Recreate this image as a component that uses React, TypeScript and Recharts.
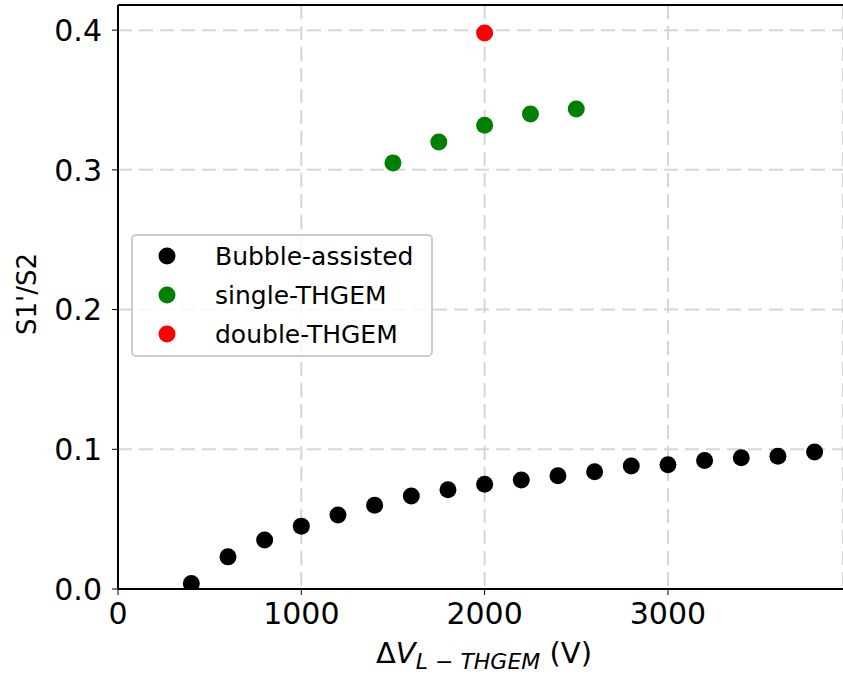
import React from "react";
import {
  ScatterChart,
  Scatter,
  XAxis,
  YAxis,
  CartesianGrid,
  Legend,
  ReferenceLine,
} from "recharts";

// Bubble-assisted points
const bubbleX = [400, 600, 800, 1000, 1200, 1400, 1600, 1800, 2000, 2200, 2400, 2600, 2800, 3000, 3200, 3400, 3600, 3800];
const bubbleY = [0.004, 0.023, 0.035, 0.045, 0.053, 0.06, 0.0665, 0.071, 0.075, 0.078, 0.081, 0.084, 0.088, 0.089, 0.092, 0.094, 0.095, 0.098];

// single-THGEM points
const singleX = [1500, 1750, 2000, 2250, 2500];
const singleY = [0.305, 0.32, 0.332, 0.34, 0.3435];

// double-THGEM point
const doubleX = [2000];
const doubleY = [0.398];

const seriesNames = ["Bubble-assisted", "single-THGEM", "double-THGEM"];

const xTicks = [0, 1000, 2000, 3000];
const yTicks = [0, 0.1, 0.2, 0.3, 0.4];

const X_MAX = 3955;
const Y_MAX = 0.418;

const toPoints = (xs: number[], ys: number[]) => xs.map((x, i) => ({ x, y: ys[i] }));

const bubbleData = toPoints(bubbleX, bubbleY);
const singleData = toPoints(singleX, singleY);
const doubleData = toPoints(doubleX, doubleY);

const Dot = (props: any) => {
  const { cx, cy, fill } = props;
  return <circle cx={cx} cy={cy} r={8.5} fill={fill} />;
};

const renderLegend = (props: any) => {
  // keep the plotting order, not alphabetical
  const payload = [...props.payload].sort(
    (a: any, b: any) => seriesNames.indexOf(a.value) - seriesNames.indexOf(b.value)
  );
  return (
    <div
      style={{
        width: 302,
        height: 123,
        border: "2px solid #cccccc",
        borderRadius: 5,
        background: "rgba(255,255,255,0.8)",
        boxSizing: "border-box",
        position: "relative",
      }}
    >
      {payload.map((entry: any, i: number) => (
        <div
          key={entry.value}
          style={{
            position: "absolute",
            left: 0,
            top: 2 + i * 39,
            height: 36,
            display: "flex",
            alignItems: "center",
          }}
        >
          <svg width={70} height={36}>
            <circle cx={34} cy={18} r={8.5} fill={entry.color} />
          </svg>
          <span style={{ fontSize: 25, color: "#000", marginLeft: 12, whiteSpace: "nowrap" }}>
            {entry.value}
          </span>
        </div>
      ))}
    </div>
  );
};

const XLabel = () => (
  <text x={484} y={663} textAnchor="middle" fontSize={29} fill="#000">
    <tspan>Δ</tspan>
    <tspan fontStyle="italic">V</tspan>
    <tspan fontSize={22} fontStyle="italic" dy={6}>L − THGEM</tspan>
    <tspan dy={-6}> (V)</tspan>
  </text>
);

const YLabel = () => (
  <text
    x={27}
    y={294}
    textAnchor="middle"
    dominantBaseline="central"
    fontSize={26}
    fill="#000"
    transform="rotate(-90 27 294)"
  >
    S1'/S2
  </text>
);

export default function App() {
  return (
    <div
      style={{
        position: "fixed",
        left: 0,
        top: 0,
        width: 843,
        height: 677,
        background: "#fff",
        fontFamily: "'DejaVu Sans', sans-serif",
      }}
    >
      <ScatterChart width={843} height={677} margin={{ top: 5, right: 0, bottom: 0, left: 0 }}>
        <CartesianGrid stroke="#d6d6d6" strokeWidth={2} strokeDasharray="14 7" />
        <XAxis
          type="number"
          dataKey="x"
          domain={[0, X_MAX]}
          ticks={xTicks}
          height={88}
          allowDataOverflow
          axisLine={{ stroke: "#000", strokeWidth: 2 }}
          tickLine={{ stroke: "#000", strokeWidth: 1 }}
          tickSize={6}
          tickMargin={8}
          tick={{ fontSize: 30, fill: "#000" }}
          label={<XLabel />}
        />
        <YAxis
          type="number"
          dataKey="y"
          domain={[0, Y_MAX]}
          ticks={yTicks}
          width={118}
          allowDataOverflow
          axisLine={{ stroke: "#000", strokeWidth: 2 }}
          tickLine={{ stroke: "#000", strokeWidth: 1 }}
          tickSize={6}
          tickMargin={10}
          tick={{ fontSize: 30, fill: "#000" }}
          tickFormatter={(v: number) => v.toFixed(1)}
          label={<YLabel />}
        />
        <ReferenceLine y={Y_MAX} stroke="#000" strokeWidth={2} ifOverflow="extendDomain" />
        <Legend
          layout="vertical"
          align="center"
          verticalAlign="middle"
          content={renderLegend}
          wrapperStyle={{ left: 131, top: 234, width: 302, height: 123 }}
        />
        <Scatter name="Bubble-assisted" data={bubbleData} fill="#000000" shape={<Dot />} isAnimationActive={false} />
        <Scatter name="single-THGEM" data={singleData} fill="#008000" shape={<Dot />} isAnimationActive={false} />
        <Scatter name="double-THGEM" data={doubleData} fill="#ff0000" shape={<Dot />} isAnimationActive={false} />
      </ScatterChart>
    </div>
  );
}
